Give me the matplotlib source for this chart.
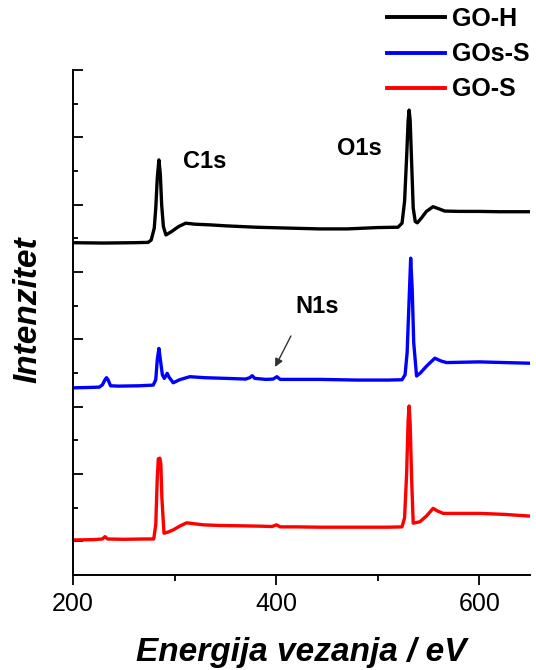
import matplotlib
matplotlib.use("Agg")
import matplotlib.pyplot as plt
from matplotlib.ticker import MultipleLocator, FixedLocator

plt.rcParams['font.family'] = ['Liberation Sans', 'DejaVu Sans']

# ---------------- data ----------------
labels = ["GO-H", "GOs-S", "GO-S"]
colors = ["black", "blue", "red"]

goh_e = [200, 230, 260, 274, 277, 280, 281.5, 283, 284.6, 286, 287.3, 289, 291.5,
         297, 304, 311, 320, 335, 351, 380, 417, 443, 470, 500, 520, 524, 526.5, 528.5,
         530, 531, 532, 533.5, 535, 537, 539, 543, 548, 554.5, 560, 566, 580, 600, 620, 650]
goh_i = [8.87, 8.86, 8.87, 8.88, 8.95, 9.3, 9.9, 10.8, 11.33, 10.9, 10.0, 9.35, 9.10,
         9.2, 9.35, 9.45, 9.42, 9.40, 9.37, 9.33, 9.30, 9.28, 9.28, 9.32, 9.33, 9.45, 10.1, 11.4,
         12.5, 12.81, 12.5, 11.2, 9.9, 9.5, 9.46, 9.6, 9.8, 9.94, 9.88, 9.81, 9.80, 9.80, 9.79, 9.79]

goss_e = [200, 215, 226, 229, 231.5, 233, 234.5, 237, 245, 265, 279, 281.5, 283, 284.6,
          286, 288, 289.9, 291.5, 292.8, 294.5, 298.7, 305, 315, 330, 351, 370, 374, 376.5,
          379, 390, 397, 400.8, 404, 420, 443, 480, 510, 524, 527, 529, 531, 532.5, 534,
          535.5, 538.3, 542, 548, 556.3, 562, 567.8, 600, 625, 650]
goss_i = [4.56, 4.57, 4.58, 4.65, 4.80, 4.86, 4.80, 4.62, 4.61, 4.62, 4.64, 4.8, 5.4, 5.73,
          5.4, 4.95, 4.84, 4.92, 4.99, 4.88, 4.71, 4.80, 4.89, 4.86, 4.84, 4.82, 4.86, 4.92,
          4.84, 4.81, 4.82, 4.89, 4.81, 4.81, 4.81, 4.79, 4.79, 4.80, 4.95, 5.6, 7.2, 8.41, 7.5,
          5.9, 4.91, 5.0, 5.2, 5.44, 5.36, 5.31, 5.33, 5.31, 5.29]

gos_e = [200, 220, 229, 231.5, 234, 250, 270, 279.5, 281.5, 283, 284, 285.5, 286.5, 287.5,
         289.6, 294, 298.7, 305, 311.9, 320, 328.3, 345, 367.6, 385, 396, 400.4, 404, 420,
         443, 480, 510, 524, 526.5, 528.5, 530, 531, 532, 533.5, 535, 541.5, 548, 554.6, 559,
         564.5, 580, 600.6, 625, 650]
gos_i = [0.04, 0.05, 0.07, 0.14, 0.07, 0.06, 0.07, 0.07, 0.5, 1.9, 2.45, 2.47, 2.3, 1.3,
         0.24, 0.28, 0.34, 0.45, 0.55, 0.52, 0.49, 0.47, 0.46, 0.45, 0.44, 0.49, 0.43, 0.43,
         0.42, 0.42, 0.42, 0.43, 0.7, 2.0, 3.6, 4.02, 3.5, 1.8, 0.54, 0.58, 0.75, 0.98, 0.9,
         0.83, 0.83, 0.83, 0.80, 0.75]

x_major = [200, 400, 600]
x_minor = [300, 500]

# ---------------- figure ----------------
fig = plt.figure(figsize=(5.36, 6.70), dpi=100)
ax = fig.add_axes([73/536, 1-575/670, 457/536, 505/670])

series = [(goh_e, goh_i), (goss_e, goss_i), (gos_e, gos_i)]
for (e, i), lab, c in zip(series, labels, colors):
    ax.plot(e, i, color=c, lw=2.4, label=lab, solid_joinstyle='round')

ax.set_xlim(200, 650)
ax.set_ylim(-1, 14)

for s in ['top', 'right']:
    ax.spines[s].set_visible(False)
for s in ['left', 'bottom']:
    ax.spines[s].set_linewidth(1.4)

ax.xaxis.set_major_locator(FixedLocator(x_major))
ax.xaxis.set_minor_locator(FixedLocator(x_minor))
ax.yaxis.set_major_locator(MultipleLocator(2))
ax.yaxis.set_minor_locator(MultipleLocator(1))
ax.tick_params(axis='x', which='major', direction='out', length=7, width=1.3,
               labelsize=18, pad=5)
ax.tick_params(axis='x', which='minor', direction='out', length=4, width=1.3)
ax.tick_params(axis='y', which='major', direction='in', length=7, width=1.3,
               labelleft=False)
ax.tick_params(axis='y', which='minor', direction='in', length=3.5, width=1.3)

ax.set_xlabel("Energija vezanja / eV", fontsize=24, fontweight='bold',
              fontstyle='italic', labelpad=15)
ax.set_ylabel("Intenzitet", fontsize=24, fontweight='bold', fontstyle='italic')
ax.yaxis.set_label_coords(-0.065, 0.525)

ax.text(330, 11.29, "C1s", fontsize=17, fontweight='bold', ha='center', va='center')
ax.text(482, 11.68, "O1s", fontsize=17, fontweight='bold', ha='center', va='center')
ax.text(440, 6.97, "N1s", fontsize=17, fontweight='bold', ha='center', va='center')
ax.annotate("", xy=(399, 5.18), xytext=(414.6, 6.10),
            arrowprops=dict(arrowstyle='-|>', color='#333333', lw=1.0,
                            mutation_scale=12, shrinkA=0, shrinkB=0))

leg = fig.legend(loc='upper left', bbox_to_anchor=(387/536, 1-7/670), frameon=False,
                 fontsize=18, handlelength=2.3, handletextpad=0.3,
                 labelspacing=0.45, borderpad=0, borderaxespad=0)
for t in leg.get_texts():
    t.set_fontweight('bold')
for l in leg.get_lines():
    l.set_linewidth(2.8)

fig.savefig("out.png", dpi=100)
